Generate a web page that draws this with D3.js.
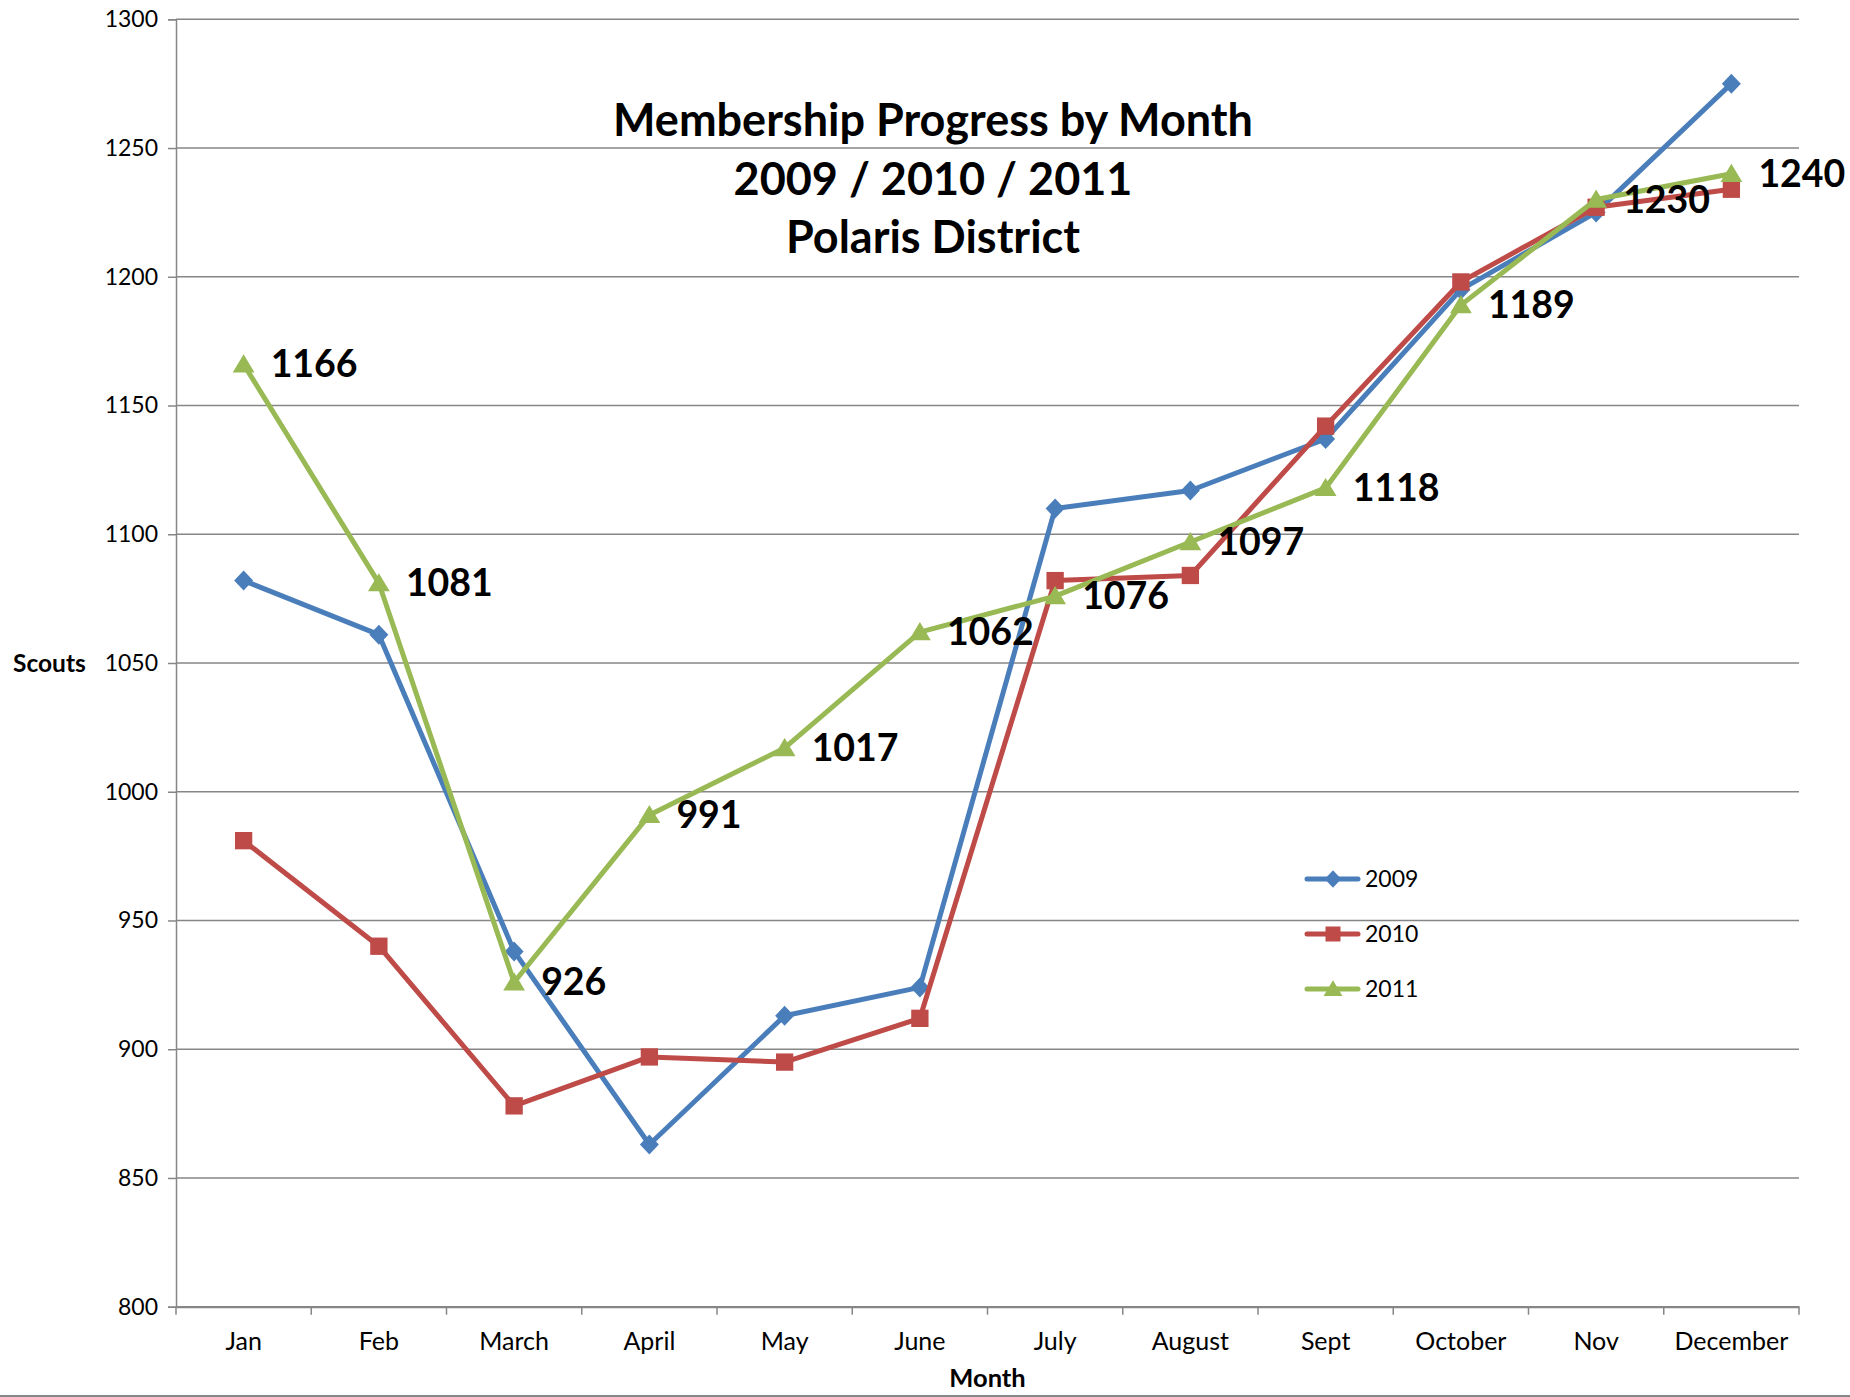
<!DOCTYPE html>
<html><head><meta charset="utf-8">
<script src="https://cdn.jsdelivr.net/npm/d3@7"></script>
<style>body{margin:0;background:#fff}svg{display:block}text{font-family:Lato,"Open Sans",sans-serif}</style>
</head><body>
<script>
const months = ["Jan","Feb","March","April","May","June","July","August","Sept","October","Nov","December"];
const s2009 = [1082,1061,938,863,913,924,1110,1117,1137,1195,1225,1275];
const s2010 = [981,940,878,897,895,912,1082,1084,1142,1198,1227,1234];
const s2011 = [1166,1081,926,991,1017,1062,1076,1097,1118,1189,1230,1240];
const yTicks = [800,850,900,950,1000,1050,1100,1150,1200,1250,1300];
const seriesNames = ["2009","2010","2011"];
const titleLines = ["Membership Progress by Month","2009 / 2010 / 2011","Polaris District"];

const W=1850,H=1397;
const L=176,R=1799,T=19.3,B=1306.7;
const svg=d3.select("body").append("svg").attr("width",W).attr("height",H);
const x=d3.scaleBand().domain(months).range([L,R]);
const y=d3.scaleLinear().domain([800,1300]).range([B,T]);
const grid="#868686";

// gridlines
svg.append("g").selectAll("line").data(yTicks).join("line")
  .attr("x1",L).attr("x2",R).attr("y1",d=>y(d)).attr("y2",d=>y(d))
  .attr("stroke",grid).attr("stroke-width",1.5);

// y axis
const ya=svg.append("g").attr("transform",`translate(${L},0)`)
  .call(d3.axisLeft(y).tickValues(yTicks).tickSize(8).tickPadding(10).tickFormat(d3.format("d")));
ya.select(".domain").attr("stroke",grid).attr("stroke-width",1.5);
ya.selectAll(".tick line").attr("stroke",grid).attr("stroke-width",1.5);
ya.selectAll(".tick text").attr("font-size",23).attr("fill","#000").attr("font-family","Lato");

// x axis
const xa=svg.append("g").attr("transform",`translate(0,${B})`)
  .call(d3.axisBottom(x).tickSize(0).tickPadding(26));
xa.select(".domain").attr("stroke",grid).attr("stroke-width",2);
xa.selectAll(".tick text").attr("font-size",25).attr("fill","#000").attr("font-family","Lato");
// boundary ticks
const bounds=d3.range(months.length+1).map(i=>L+i*x.step());
svg.append("g").selectAll("line").data(bounds).join("line")
  .attr("x1",d=>d).attr("x2",d=>d).attr("y1",B).attr("y2",B+8)
  .attr("stroke",grid).attr("stroke-width",1.5);

// axis titles
svg.append("text").attr("x",13).attr("y",y(1050)).attr("dy","0.35em")
  .attr("font-size",24.5).attr("font-weight","bold").text("Scouts");
svg.append("text").attr("x",(L+R)/2).attr("y",1378).attr("dy","0.35em").attr("text-anchor","middle")
  .attr("font-size",25.5).attr("font-weight","bold").text("Month");

// title
const tys=[120,179,237];
svg.append("g").selectAll("text").data(titleLines).join("text")
  .attr("x",933).attr("y",(d,i)=>tys[i]).attr("dy","0.35em").attr("text-anchor","middle")
  .attr("font-size",45).attr("font-weight","bold").text(d=>d);

// bottom border
svg.append("line").attr("x1",0).attr("x2",W).attr("y1",1396).attr("y2",1396).attr("stroke",grid).attr("stroke-width",2);

const colors=["#4A7EBB","#BE4B48","#98B954"];
const data=[s2009,s2010,s2011];
const diamond={draw(c,size){const r=Math.sqrt(size)/2;c.moveTo(0,-r);c.lineTo(r*0.95,0);c.lineTo(0,r);c.lineTo(-r*0.95,0);c.closePath();}};
const tri={draw(c,size){const w=Math.sqrt(size)*1.2/2,h=Math.sqrt(size);c.moveTo(0,-h*0.55);c.lineTo(w,h*0.45);c.lineTo(-w,h*0.45);c.closePath();}};
const shapes=[diamond,d3.symbolSquare,tri];
const sizes=[400,300,330];
const cx=m=>x(m)+x.bandwidth()/2;
const line=d3.line().x((d,i)=>cx(months[i])).y(d=>y(d));

data.forEach((s,k)=>{
  const g=svg.append("g");
  g.append("path").datum(s).attr("d",line).attr("fill","none")
    .attr("stroke",colors[k]).attr("stroke-width",5).attr("stroke-linejoin","round");
  g.selectAll("path.m").data(s).join("path").attr("class","m")
    .attr("d",d3.symbol().type(shapes[k]).size(sizes[k]))
    .attr("transform",(d,i)=>`translate(${cx(months[i])},${y(d)})`)
    .attr("fill",colors[k]);
});

// data labels 2011
svg.append("g").selectAll("text").data(s2011).join("text")
  .attr("x",(d,i)=>cx(months[i])+27).attr("y",d=>y(d)).attr("dy","0.35em")
  .attr("font-size",37.5).attr("font-weight","bold").text(d=>d);

// legend
const ly=[879,934,989];
const lg=svg.append("g");
seriesNames.forEach((n,k)=>{
  lg.append("line").attr("x1",1307).attr("x2",1358).attr("y1",ly[k]).attr("y2",ly[k])
    .attr("stroke",colors[k]).attr("stroke-width",5).attr("stroke-linecap","round");
  lg.append("path").attr("d",d3.symbol().type(shapes[k]).size(sizes[k]*0.75))
    .attr("transform",`translate(1333,${ly[k]})`).attr("fill",colors[k]);
  lg.append("text").attr("x",1365).attr("y",ly[k]).attr("dy","0.35em").attr("font-size",23).text(n);
});
</script>
</body></html>
